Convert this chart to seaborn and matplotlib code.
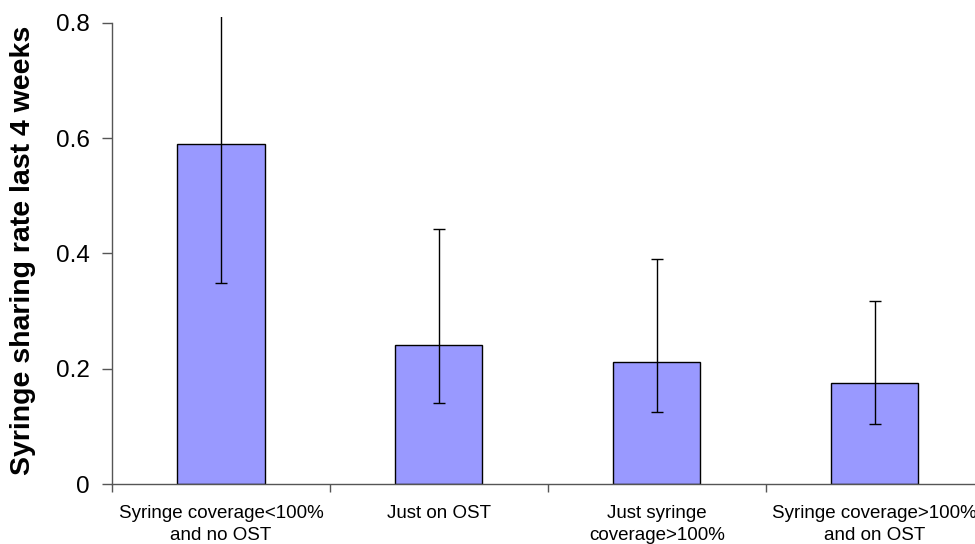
import pandas as pd
import seaborn as sns
import matplotlib.pyplot as plt
from matplotlib.ticker import FixedLocator

categories = ['Syringe coverage<100%\nand no OST', 'Just on OST',
              'Just syringe\ncoverage>100%', 'Syringe coverage>100%\nand on OST']
rates = [0.589, 0.241, 0.211, 0.175]
ci_low = [0.348, 0.140, 0.125, 0.104]
ci_high = [0.90, 0.442, 0.390, 0.317]
y_ticks = [0, 0.2, 0.4, 0.6, 0.8]
y_tick_labels = ['0', '0.2', '0.4', '0.6', '0.8']

df = pd.DataFrame({'group': categories, 'rate': rates})

sns.set_style('white')
plt.rcParams['font.family'] = ['Liberation Sans', 'DejaVu Sans']
plt.rcParams['text.color'] = 'black'
plt.rcParams['xtick.color'] = 'black'
plt.rcParams['ytick.color'] = 'black'
plt.rcParams['axes.labelcolor'] = 'black'

fig = plt.figure(figsize=(9.75, 5.44), dpi=100)
ax = fig.add_axes([0.1149, 0.110, 0.894, 0.859])

sns.barplot(data=df, x='group', y='rate', color='#9999FF', saturation=1,
            width=0.4, edgecolor='black', linewidth=1, errorbar=None, ax=ax)

xs = list(range(len(categories)))
yerr = [[r - lo for r, lo in zip(rates, ci_low)], [hi - r for r, hi in zip(rates, ci_high)]]
ax.errorbar(xs, rates, yerr=yerr, fmt='none', ecolor='black', elinewidth=1,
            capsize=4, capthick=1)

ax.set_xlim(-0.5, len(categories) - 0.5)
ax.set_ylim(0, 0.81)
ax.spines['left'].set_bounds(0, 0.8)
for s in ['top', 'right']:
    ax.spines[s].set_visible(False)
for s in ['left', 'bottom']:
    ax.spines[s].set_color('#555555')
    ax.spines[s].set_linewidth(1)

ax.set_yticks(y_ticks)
ax.set_yticklabels(y_tick_labels, fontsize=17.5)
ax.tick_params(axis='y', direction='out', length=7, width=1, color='#555555',
               pad=9, left=True)

# boundary ticks on x, labels centred between them
ax.xaxis.set_major_locator(FixedLocator([i - 0.5 for i in range(len(categories))]))
ax.set_xticklabels([''] * len(categories))
ax.xaxis.set_minor_locator(FixedLocator(xs))
ax.set_xticklabels(categories, minor=True, fontsize=13.5, linespacing=1.4)
ax.tick_params(axis='x', which='major', direction='out', length=6, width=1,
               color='#555555', bottom=True)
ax.tick_params(axis='x', which='minor', length=0, pad=15)

ax.set_xlabel('')
ax.set_ylabel('Syringe sharing rate last 4 weeks', fontsize=20.5,
              fontweight='bold', labelpad=14)

fig.savefig('out.png', dpi=100)
